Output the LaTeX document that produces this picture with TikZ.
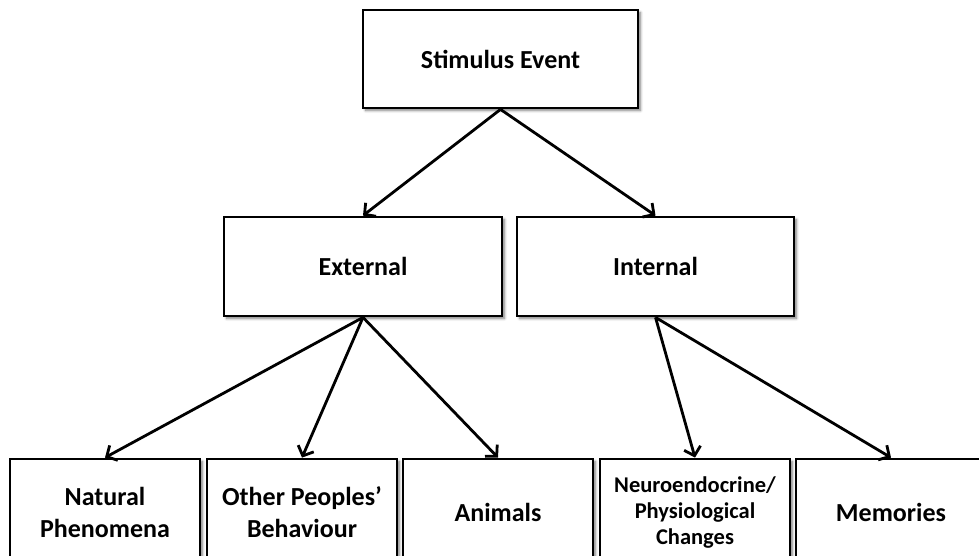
\documentclass[tikz,border=0pt]{standalone}
\usepackage{fontspec}
\setmainfont{Carlito}
\usetikzlibrary{arrows.meta,shadows.blur}
\begin{document}
\begin{tikzpicture}[x=1pt,y=-1pt,
  box/.style={draw=black, line width=2.8pt, fill=white, rectangle,
    align=center, font=\bfseries\fontsize{26}{32}\selectfont,
    inner sep=0pt,
    blur shadow={shadow xshift=2.5pt, shadow yshift=-2.5pt,
      shadow blur radius=2.5pt, shadow blur steps=6, shadow opacity=50}},
  small/.style={font=\bfseries\fontsize{22.5}{26}\selectfont},
  link/.style={line width=2.8pt, draw=black,
    -{Straight Barb[length=8pt,width=17pt,line width=2.8pt]}}]
  \useasboundingbox (0,0) rectangle (979,556);
  \clip (0,0) rectangle (979,556);

  % top level
  \node[box, minimum width=275pt, minimum height=98pt] (stim) at (500.5,59) {Stimulus Event};

  % second level
  \node[box, minimum width=278pt, minimum height=99pt] (ext) at (363,266.5) {External};
  \node[box, minimum width=277pt, minimum height=99pt] (int) at (655.5,266.5) {Internal};

  % bottom row
  \node[box, minimum width=190pt, minimum height=107pt] (nat) at (105,512.5) {Natural\\Phenomena};
  \node[box, minimum width=190pt, minimum height=107pt] (oth) at (302,512.5) {Other Peoples’\\Behaviour};
  \node[box, minimum width=190pt, minimum height=107pt] (ani) at (498,512.5) {Animals};
  \node[box, small, minimum width=190pt, minimum height=107pt] (neu) at (695,512.5) {Neuroendocrine/\\Physiological\\Changes};
  \node[box, minimum width=190pt, minimum height=107pt] (mem) at (891,512.5) {Memories};

  % connectors
  \draw[link] (stim.south) -- (ext.north);
  \draw[link] (stim.south) -- (int.north);
  \draw[link] (ext.south) -- (nat.north);
  \draw[link] (ext.south) -- (oth.north);
  \draw[link] (ext.south) -- (ani.north);
  \draw[link] (int.south) -- (neu.north);
  \draw[link] (int.south) -- (mem.north);
\end{tikzpicture}
\end{document}
